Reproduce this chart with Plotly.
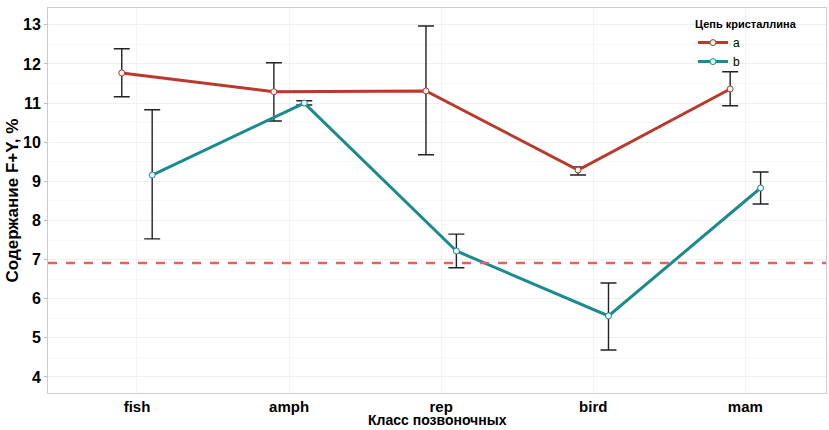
import plotly.graph_objects as go

categories = ["fish", "amph", "rep", "bird", "mam"]
a_vals = [11.77, 11.29, 11.31, 9.29, 11.36]
a_hi = [12.39, 12.03, 12.97, 9.37, 11.80]
a_lo = [11.16, 10.54, 9.68, 9.16, 10.93]
b_vals = [9.16, 11.00, 7.22, 5.56, 8.83]
b_hi = [10.83, 11.06, 7.65, 6.40, 9.24]
b_lo = [7.53, 10.95, 6.79, 4.69, 8.42]
ref_line = 6.91

RED = "#b73a2c"
TEAL = "#1b8b8f"
dodge = 0.1

fig = go.Figure()

def add_series(name, vals, hi, lo, color, off):
    xs = [i + off for i in range(len(categories))]
    fig.add_trace(go.Scatter(
        x=xs, y=vals, mode="lines+markers", name=name,
        line=dict(color=color, width=3),
        marker=dict(symbol="circle", size=6, color="#f4f4f4",
                    line=dict(color=color, width=1)),
        error_y=dict(type="data", symmetric=False,
                     array=[h - v for h, v in zip(hi, vals)],
                     arrayminus=[v - l for v, l in zip(vals, lo)],
                     color="#222222", thickness=1.4, width=8),
    ))

add_series("a", a_vals, a_hi, a_lo, RED, -dodge)
add_series("b", b_vals, b_hi, b_lo, TEAL, dodge)

fig.add_shape(type="line", xref="paper", yref="y", x0=0, x1=1,
              y0=ref_line, y1=ref_line,
              line=dict(color="#e8605c", width=2.5, dash="dash"))

fig.add_annotation(text="<b>Класс позвоночных</b>", xref="paper", yref="paper",
                   x=0.5, y=-0.093, xanchor="center", yanchor="bottom",
                   borderpad=0,
                   showarrow=False, font=dict(size=14, family="Liberation Sans", color="black"))
fig.add_annotation(text="<b>Содержание F+Y, %</b>", xref="paper", yref="paper",
                   x=-0.045, y=0.5, xanchor="center", yanchor="middle", textangle=-90,
                   showarrow=False, font=dict(size=17, family="Liberation Sans", color="black"))

fig.update_layout(
    width=829, height=430,
    margin=dict(l=48, r=3, t=8, b=37),
    paper_bgcolor="white", plot_bgcolor="white",
    font=dict(family="Liberation Sans", color="black"),
    showlegend=True,
    legend=dict(x=0.829, y=0.985, xanchor="left", yanchor="top",
                title=dict(text="<b>Цепь кристаллина</b>", font=dict(size=11)),
                font=dict(size=12), tracegroupgap=0, itemwidth=30,
                bgcolor="rgba(0,0,0,0)"),
)

fig.update_xaxes(
    range=[-0.585, 4.53], tickmode="array", tickvals=list(range(len(categories))),
    ticktext=["<b>%s</b>" % c for c in categories],
    tickfont=dict(size=15), showgrid=True, gridcolor="#f2f2f2", gridwidth=1,
    ticks="", automargin=False,
    showline=True, linecolor="#cccccc", mirror=True, zeroline=False,
)
fig.update_yaxes(
    range=[3.59, 13.43], tickmode="linear", tick0=4, dtick=1,
    tickfont=dict(size=16), tickprefix="<b>", ticksuffix="</b>",
    showgrid=True, gridcolor="#f0f0f0", gridwidth=1, automargin=False,
    minor=dict(dtick=0.5, showgrid=True, gridcolor="#f8f8f8"),
    ticks="outside", ticklen=3, tickcolor="#bbbbbb",
    showline=True, linecolor="#cccccc", mirror=True, zeroline=False,
)

fig.write_html("out.html")
